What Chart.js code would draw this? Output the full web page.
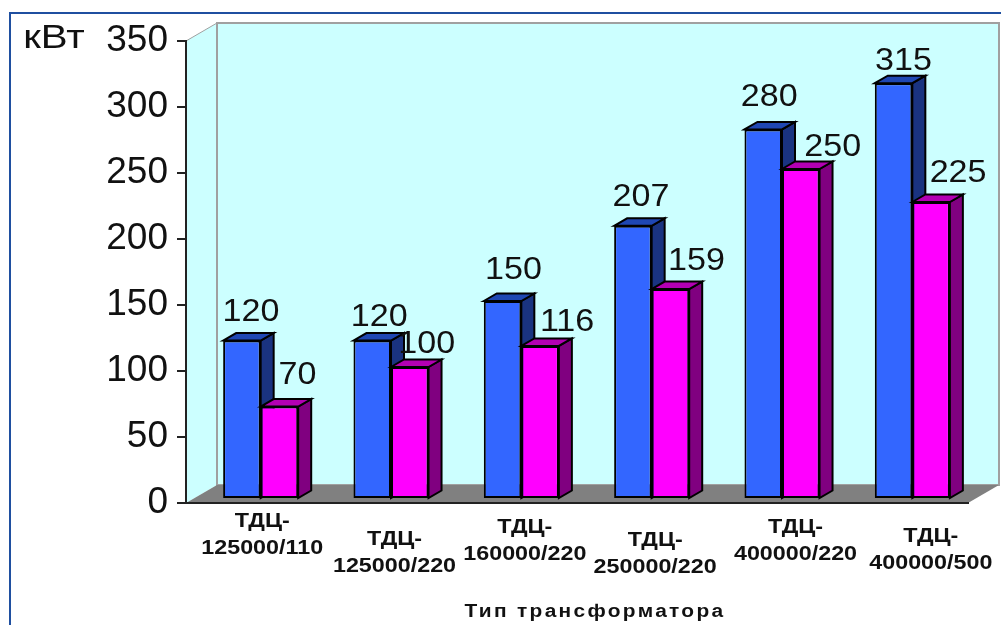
<!DOCTYPE html>
<html lang="ru">
<head>
  <meta charset="UTF-8">
  <title>Тип трансформатора</title>
  <script src="https://cdn.jsdelivr.net/npm/chart.js"></script>
  <style>
    body { margin: 0; background: #fff; }
    canvas { display: block; }
  </style>
</head>
<body>
  <canvas id="grafico" width="1001" height="625"></canvas>

  <script>
    const tipos = ['125000/110', '125000/220', '160000/220', '250000/220', '400000/220', '400000/500'];
    const prefijo = 'ТДЦ-';
    const serieAzul = [120, 120, 150, 207, 280, 315];
    const serieRosa = [70, 100, 116, 159, 250, 225];
    const marcasY = [0, 50, 100, 150, 200, 250, 300, 350];
    const unidad = 'кВт';
    const tituloX = 'Тип трансформатора';

    // shift of the bars on the floor and depth of the 3D box
    const desplazamiento = { x: 9.5, y: -4 };
    const fondo = { x: 13, y: -7.5 };
    const pared = { x: 31, y: -18 };

    const caras = [
      { lado: '#1a3380', tapa: '#1f47b3' },
      { lado: '#800080', tapa: '#b300b3' }
    ];

    // hand placement of the value labels, relative to the bar top
    const ajusteEtiquetas = [
      [[9, -28], [7, -23], [11, -31], [8, -28], [6, -32], [10, -22]],
      [[18, -31], [17, -23], [27, -23], [26, -28], [32, -22], [27, -29]]
    ];
    // labels under the axis are staggered in the original
    const ajusteCategorias = [
      { x: 11, y: 18 }, { x: 13, y: 36 }, { x: 13, y: 24 },
      { x: 13, y: 37 }, { x: 23, y: 24 }, { x: 28, y: 33 }
    ];

    function textoAncho(ctx, texto, x, y, fuente, escala, color) {
      ctx.save();
      ctx.translate(x, y);
      ctx.scale(escala, 1);
      ctx.font = fuente;
      ctx.fillStyle = color;
      ctx.textAlign = 'center';
      ctx.textBaseline = 'middle';
      ctx.fillText(texto, 0, 0);
      ctx.restore();
    }

    function poligono(ctx, puntos, relleno, linea, grosor) {
      ctx.beginPath();
      puntos.forEach((p, i) => i ? ctx.lineTo(p[0], p[1]) : ctx.moveTo(p[0], p[1]));
      ctx.closePath();
      ctx.fillStyle = relleno;
      ctx.fill();
      if (linea) {
        ctx.strokeStyle = linea;
        ctx.lineWidth = grosor;
        ctx.stroke();
      }
    }

    const escena3d = {
      id: 'escena3d',
      beforeDraw(chart) {
        const { ctx, chartArea: a } = chart;
        const px = pared.x, py = pared.y;

        // outer frame
        ctx.fillStyle = '#1f4fa0';
        ctx.fillRect(9, 12, 2, 613);
        ctx.fillRect(9, 12, 992, 2);

        poligono(ctx, [[a.left, a.top], [a.left + px, a.top + py], [a.left + px, a.bottom + py], [a.left, a.bottom]], '#ccffff');
        poligono(ctx, [[a.left + px, a.top + py], [a.right + px, a.top + py], [a.right + px, a.bottom + py], [a.left + px, a.bottom + py]], '#ccffff', '#a0a0a0', 2);
        ctx.strokeStyle = '#a0a0a0';
        ctx.lineWidth = 1;
        ctx.beginPath();
        ctx.moveTo(a.left, a.top);
        ctx.lineTo(a.left + px, a.top + py);
        ctx.stroke();
        poligono(ctx, [[a.left, a.bottom], [a.left + px, a.bottom + py], [a.right + px, a.bottom + py], [a.right, a.bottom]], '#808080');
      },
      // blue has to go first so the pink front covers its side face
      beforeDatasetsDraw(chart) {
        const ctx = chart.ctx;
        [0, 1].forEach(d => {
          const meta = chart.getDatasetMeta(d);
          ctx.save();
          ctx.translate(desplazamiento.x, desplazamiento.y);
          meta.data.forEach(bar => {
            const izq = bar.x - bar.width / 2;
            const der = bar.x + bar.width / 2;
            poligono(ctx, [[der, bar.y], [der + fondo.x, bar.y + fondo.y], [der + fondo.x, bar.base + fondo.y], [der, bar.base]], caras[d].lado, '#000', 2);
            poligono(ctx, [[izq, bar.y], [izq + fondo.x, bar.y + fondo.y], [der + fondo.x, bar.y + fondo.y], [der, bar.y]], caras[d].tapa, '#000', 2);
          });
          meta.controller.draw();
          ctx.restore();
        });
        return false;
      },
      afterDraw(chart) {
        const ctx = chart.ctx;
        const x = chart.scales.x;
        const base = chart.chartArea.bottom;

        [serieAzul, serieRosa].forEach((serie, d) => {
          chart.getDatasetMeta(d).data.forEach((bar, i) => {
            const aj = ajusteEtiquetas[d][i];
            textoAncho(ctx, String(serie[i]), bar.x + desplazamiento.x + aj[0], bar.y + desplazamiento.y + aj[1], '31px "Liberation Sans"', 1.1, '#111');
          });
        });

        tipos.forEach((tipo, i) => {
          const cx = x.getPixelForValue(i) + ajusteCategorias[i].x;
          const cy = base + ajusteCategorias[i].y;
          textoAncho(ctx, prefijo, cx, cy, 'bold 21px "Liberation Sans"', 1.11, '#111');
          textoAncho(ctx, tipo, cx, cy + 27, 'bold 21px "Liberation Sans"', 1.11, '#111');
        });

        textoAncho(ctx, unidad, 54, 39, '33px "Liberation Sans"', 1.22, '#111');

        ctx.save();
        ctx.letterSpacing = '2px';
        textoAncho(ctx, tituloX, 595, 612, 'bold 18px "Liberation Sans"', 1.16, '#111');
        ctx.restore();
      }
    };

    new Chart(document.getElementById('grafico').getContext('2d'), {
      type: 'bar',
      data: {
        labels: tipos,
        datasets: [
          { data: serieAzul, backgroundColor: '#3366ff', borderColor: '#000', borderWidth: 2, borderSkipped: false },
          { data: serieRosa, backgroundColor: '#ff00ff', borderColor: '#000', borderWidth: 2, borderSkipped: false }
        ]
      },
      options: {
        responsive: false,
        animation: false,
        events: [],
        categoryPercentage: 0.576,
        barPercentage: 1,
        layout: { padding: { top: 41, right: 33, left: 0, bottom: 0 } },
        plugins: { legend: { display: false }, tooltip: { enabled: false } },
        scales: {
          x: {
            afterFit(scale) { scale.height = 122; },
            grid: { display: false },
            border: { display: true, color: '#222', width: 2 },
            ticks: { display: false }
          },
          y: {
            min: 0,
            max: 350,
            afterFit(scale) { scale.width = 186; },
            afterBuildTicks(scale) { scale.ticks = marcasY.map(value => ({ value })); },
            grid: { drawOnChartArea: false, drawTicks: true, tickLength: 9, color: '#222', lineWidth: 2 },
            border: { display: true, color: '#222', width: 2 },
            ticks: { color: '#111', padding: 9, font: { family: 'Liberation Sans', size: 37 } }
          }
        }
      },
      plugins: [escena3d]
    });
  </script>
</body>
</html>
